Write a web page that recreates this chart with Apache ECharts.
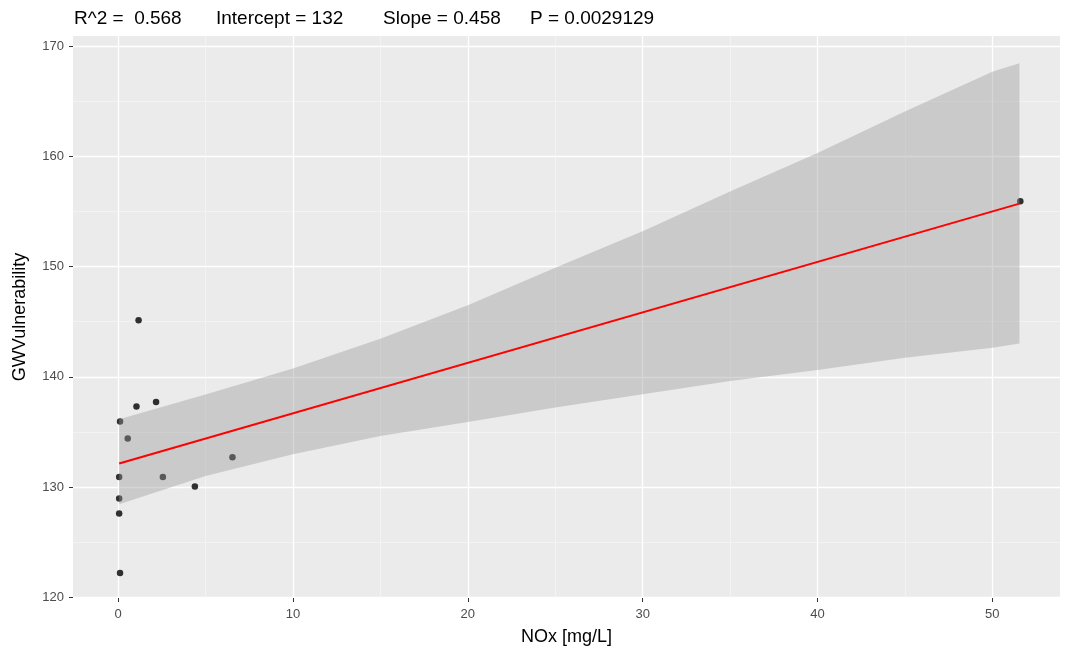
<!DOCTYPE html>
<html>
<head>
<meta charset="utf-8">
<script src="https://cdn.jsdelivr.net/npm/echarts@6/dist/echarts.min.js"></script>
<style>html,body{margin:0;padding:0;background:#fff}#c{width:1068px;height:650px}</style>
</head>
<body>
<div id="c"></div>
<script>
// ---- data ----
const titleParts = ['R^2 =  0.568', 'Intercept = 132', 'Slope = 0.458', 'P = 0.0029129'];
const pointX = [1.17, 1.05, 2.17, 0.11, 0.55, 0.06, 2.56, 4.39, 6.54, 0.06, 0.06, 0.11, 51.6];
const pointY = [145.14, 137.30, 137.72, 135.95, 134.41, 130.93, 130.93, 130.06, 132.71, 128.98, 127.62, 122.22, 155.91];
const fitX = [0.06, 51.55];
const fitY = [132.14, 155.70];
const bandX = [0.06, 5, 10, 15, 20, 25, 30, 35, 40, 45, 50, 51.55];
const bandUpper = [136.15, 138.4, 140.75, 143.45, 146.5, 149.9, 153.19, 156.81, 160.29, 164.05, 167.67, 168.43];
const bandLower = [128.46, 131.02, 132.99, 134.64, 135.9, 137.21, 138.42, 139.62, 140.62, 141.74, 142.64, 143.03];
const xMajorTicks = [0, 10, 20, 30, 40, 50];
const xMinorTicks = [5, 15, 25, 35, 45];
const yMajorTicks = [120, 130, 140, 150, 160, 170];
const yMinorTicks = [125, 135, 145, 155, 165];
const xTitle = 'NOx [mg/L]';
const yTitle = 'GWVulnerability';

const FONT = 'Liberation Sans, Arial, sans-serif';
const X_MIN = -2.58, X_MAX = 53.87, Y_MIN = 119.95, Y_MAX = 170.9;

const titleLefts = [74, 216, 383, 530];
const chart = echarts.init(document.getElementById('c'), null, {renderer: 'canvas'});

function majorAxis(ticks, isX) {
  return {
    type: 'value', min: isX ? X_MIN : Y_MIN, max: isX ? X_MAX : Y_MAX,
    position: isX ? 'bottom' : 'left',
    axisLine: {show: false, onZero: false},
    axisTick: {show: true, length: 4, lineStyle: {color: '#333333', width: 1}, customValues: ticks},
    axisLabel: {show: true, customValues: ticks, color: '#4D4D4D', fontSize: 13, fontFamily: FONT, margin: isX ? 10 : 9},
    splitLine: {show: true, lineStyle: {color: '#FFFFFF', width: 1.3}},
    name: isX ? xTitle : yTitle,
    nameLocation: 'middle',
    nameGap: isX ? 30 : 44,
    nameTextStyle: {color: '#000000', fontSize: 18, fontFamily: FONT}
  };
}
function minorAxis(ticks, isX) {
  return {
    type: 'value', min: isX ? X_MIN : Y_MIN, max: isX ? X_MAX : Y_MAX,
    position: isX ? 'bottom' : 'left',
    axisLine: {show: false, onZero: false},
    axisTick: {show: false, customValues: ticks},
    axisLabel: {show: false, customValues: ticks},
    splitLine: {show: true, lineStyle: {color: '#F7F7F7', width: 0.7}}
  };
}

const option = {
  backgroundColor: '#FFFFFF',
  animation: false,
  title: titleParts.map((t, i) => ({
    text: t, left: titleLefts[i], top: 9, padding: 0,
    textStyle: {color: '#000000', fontSize: 19, fontWeight: 'normal', fontFamily: FONT}
  })),
  grid: {left: 73, top: 36, width: 987, height: 562, show: true, backgroundColor: '#EBEBEB', borderWidth: 0,
         containLabel: false, outerBoundsMode: 'none'},
  xAxis: [minorAxis(xMinorTicks, true), majorAxis(xMajorTicks, true)],
  yAxis: [minorAxis(yMinorTicks, false), majorAxis(yMajorTicks, false)],
  series: [
    {
      type: 'scatter', xAxisIndex: 1, yAxisIndex: 1, z: 2,
      symbol: 'circle', symbolSize: 6.5,
      itemStyle: {color: '#000000'},
      data: pointX.map((x, i) => [x, pointY[i]])
    },
    {
      type: 'custom', xAxisIndex: 1, yAxisIndex: 1, z: 3, clip: true,
      data: [[bandX[0], bandUpper[0]]],
      renderItem: function (params, api) {
        const pts = [];
        for (let i = 0; i < bandX.length; i++) pts.push(api.coord([bandX[i], bandUpper[i]]));
        for (let i = bandX.length - 1; i >= 0; i--) pts.push(api.coord([bandX[i], bandLower[i]]));
        return {type: 'polygon', shape: {points: pts}, style: {fill: '#999999', opacity: 0.4}};
      }
    },
    {
      type: 'line', xAxisIndex: 1, yAxisIndex: 1, z: 4,
      symbol: 'none',
      lineStyle: {color: '#FF0000', width: 2},
      data: fitX.map((x, i) => [x, fitY[i]])
    }
  ]
};
chart.setOption(option);
</script>
</body>
</html>
